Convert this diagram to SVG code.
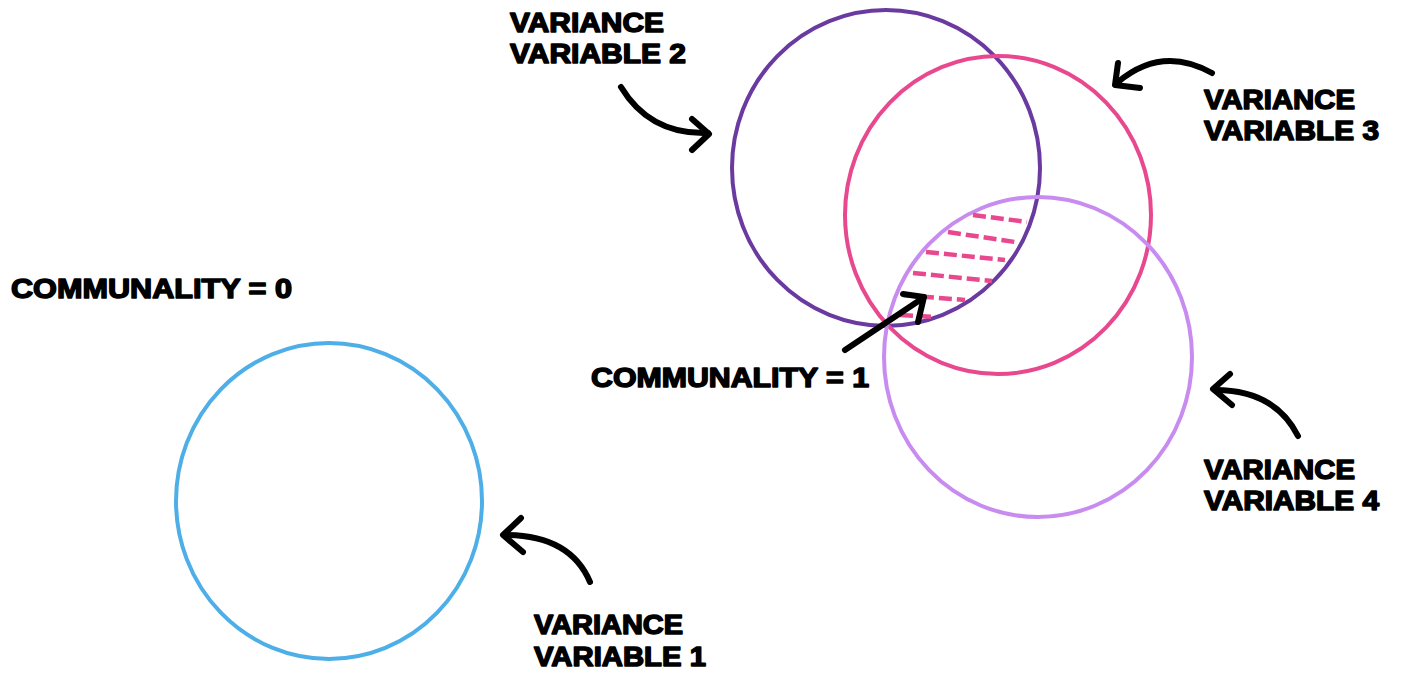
<svg xmlns="http://www.w3.org/2000/svg" width="1401" height="677" viewBox="0 0 1401 677">
<style>
.lbl{font-family:"Liberation Sans",Arial,sans-serif;font-weight:bold;font-size:27px;fill:#000;stroke:#000;stroke-width:1.5px;stroke-linejoin:round}
.circ{fill:none;stroke-width:4}
.arr{fill:none;stroke:#000;stroke-width:6;stroke-linecap:round;stroke-linejoin:round}
.hatch{fill:none;stroke:#E8488E;stroke-width:4.5;stroke-dasharray:13 5}
</style>
<rect width="1401" height="677" fill="#fff"/>
<g id="var1"><ellipse class="circ" cx="329" cy="501" rx="153" ry="158" stroke="#4DAEE8"/></g>
<g id="var2"><ellipse class="circ" cx="886" cy="168" rx="154" ry="158" stroke="#6A3AA0"/></g>
<g id="var3"><ellipse class="circ" cx="998" cy="215" rx="153" ry="159" stroke="#E8488E"/></g>
<g id="var4"><ellipse class="circ" cx="1038" cy="357" rx="154" ry="160" stroke="#C88BF0"/></g>
<g id="hatching">
<line class="hatch" x1="973" y1="215" x2="1027" y2="222"/>
<line class="hatch" x1="948" y1="232" x2="1015" y2="242"/>
<line class="hatch" x1="926" y1="252" x2="1005" y2="260"/>
<line class="hatch" x1="913" y1="273" x2="992" y2="281"/>
<line class="hatch" x1="903" y1="295" x2="965" y2="300"/>
<line class="hatch" x1="900" y1="315" x2="935" y2="317"/>
</g>
<g id="connectors">
<path class="arr" d="M621,87 Q650,135 708,133"/>
<path class="arr" d="M692,119 L709,134 L692,150"/>
<path class="arr" d="M1212,73 Q1162,45 1118,82"/>
<path class="arr" d="M1118,63 L1115,85 L1140,88"/>
<path class="arr" d="M590,582 Q570,535 505,535"/>
<path class="arr" d="M521,518 L503,535 L523,552"/>
<path class="arr" d="M1298,436 Q1275,390 1215,390"/>
<path class="arr" d="M1230,374 L1213,389 L1232,405"/>
<path class="arr" d="M845,350 L923,298"/>
<path class="arr" d="M903,294 L924,297 L918,322"/>
</g>
<g id="labels">
<text class="lbl" x="510" y="32" textLength="154" lengthAdjust="spacingAndGlyphs">VARIANCE</text>
<text class="lbl" x="510" y="63" textLength="176" lengthAdjust="spacingAndGlyphs">VARIABLE 2</text>
<text class="lbl" x="1204" y="109" textLength="151" lengthAdjust="spacingAndGlyphs">VARIANCE</text>
<text class="lbl" x="1204" y="140" textLength="175" lengthAdjust="spacingAndGlyphs">VARIABLE 3</text>
<text class="lbl" x="1204" y="479" textLength="151" lengthAdjust="spacingAndGlyphs">VARIANCE</text>
<text class="lbl" x="1204" y="510" textLength="175" lengthAdjust="spacingAndGlyphs">VARIABLE 4</text>
<text class="lbl" x="534" y="634" textLength="149" lengthAdjust="spacingAndGlyphs">VARIANCE</text>
<text class="lbl" x="534" y="666" textLength="172" lengthAdjust="spacingAndGlyphs">VARIABLE 1</text>
<text class="lbl" x="11" y="298" textLength="281" lengthAdjust="spacingAndGlyphs">COMMUNALITY = 0</text>
<text class="lbl" x="591" y="387" textLength="278" lengthAdjust="spacingAndGlyphs">COMMUNALITY = 1</text>
</g>
</svg>
